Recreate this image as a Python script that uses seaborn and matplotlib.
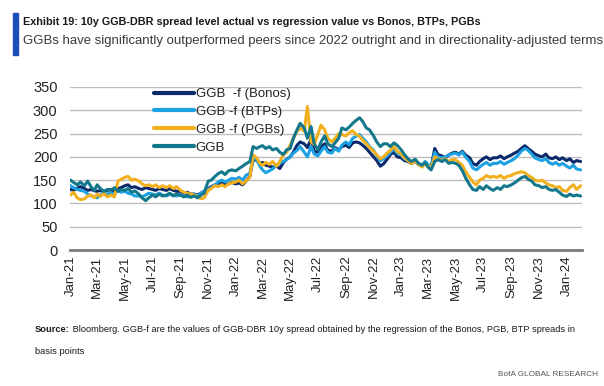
import numpy as np
import pandas as pd
import matplotlib
matplotlib.use("Agg")
import matplotlib.pyplot as plt
import matplotlib.dates as mdates
import seaborn as sns

# four readings per month (1st, 8th, 16th, 23rd), Jan-21 .. Jan-24, plus 1 Feb 2024
ggb = [
    [150, 145, 140, 146], [138, 148, 135, 128], [140, 132, 126, 130], [128, 134, 126, 130],
    [128, 132, 124, 127], [120, 112, 106, 112], [118, 114, 120, 116], [118, 122, 116, 120],
    [118, 114, 118, 113], [116, 112, 118, 122], [148, 150, 158, 164], [168, 162, 170, 172],
    [170, 175, 180, 185], [190, 222, 218, 222], [224, 218, 222, 215], [218, 210, 205, 215],
    [218, 240, 258, 272], [262, 240, 265, 228], [215, 232, 245, 228], [222, 230, 240, 262],
    [258, 264, 272, 278], [284, 276, 262, 258], [245, 232, 222, 228], [228, 222, 230, 225],
    [215, 205, 196, 190], [195, 186, 182, 188], [178, 172, 190, 194], [190, 194, 186, 188],
    [186, 182, 170, 155], [140, 130, 128, 136], [130, 138, 132, 128], [134, 130, 138, 136],
    [140, 144, 150, 155], [158, 152, 148, 140], [138, 134, 136, 130], [128, 130, 124, 118],
    [115, 120, 116, 118], [116],
]
bonos = [
    [130, 128, 133, 136], [132, 128, 130, 127], [126, 128, 124, 128], [130, 126, 132, 134],
    [138, 140, 134, 136], [132, 130, 134, 132], [130, 128, 132, 130], [128, 132, 128, 126],
    [126, 122, 124, 120], [120, 118, 122, 126], [132, 136, 140, 142], [144, 140, 142, 145],
    [142, 144, 140, 148], [158, 195, 192, 186], [188, 182, 180, 178], [180, 175, 188, 195],
    [200, 210, 225, 232], [228, 220, 238, 212], [210, 222, 228, 214], [212, 220, 215, 222],
    [225, 220, 230, 232], [230, 225, 218, 210], [200, 192, 180, 185], [195, 205, 210, 200],
    [198, 192, 190, 186], [190, 184, 180, 188], [182, 178, 218, 205], [202, 198, 204, 208],
    [210, 206, 212, 204], [198, 186, 182, 190], [196, 200, 194, 198], [198, 202, 196, 200],
    [204, 208, 212, 218], [224, 218, 212, 206], [202, 200, 206, 198], [196, 200, 194, 198],
    [192, 196, 188, 192], [190],
]
btps = [
    [138, 134, 130, 128], [126, 120, 116, 114], [112, 118, 124, 120], [122, 120, 128, 124],
    [126, 122, 120, 116], [116, 114, 118, 122], [120, 118, 122, 118], [116, 120, 118, 116],
    [118, 116, 114, 118], [120, 116, 122, 126], [130, 134, 140, 146], [150, 146, 150, 154],
    [152, 156, 150, 160], [165, 198, 194, 180], [172, 166, 170, 174], [182, 186, 190, 194],
    [200, 208, 214, 222], [210, 200, 222, 206], [202, 212, 222, 210], [208, 218, 212, 225],
    [232, 226, 240, 244], [248, 240, 232, 222], [214, 202, 192, 196], [202, 210, 216, 208],
    [204, 196, 192, 188], [192, 186, 182, 190], [184, 178, 210, 200], [198, 200, 204, 206],
    [208, 204, 210, 200], [190, 176, 172, 178], [184, 188, 182, 186], [186, 190, 184, 188],
    [192, 196, 204, 212], [218, 214, 206, 198], [194, 192, 196, 188], [184, 188, 182, 186],
    [180, 176, 182, 174], [172],
]
pgbs = [
    [118, 124, 112, 108], [110, 116, 118, 112], [120, 115, 122, 114], [118, 114, 148, 152],
    [156, 158, 150, 152], [148, 142, 138, 140], [136, 140, 134, 138], [134, 138, 132, 136],
    [128, 124, 122, 120], [118, 114, 110, 112], [128, 132, 138, 136], [140, 136, 142, 144],
    [146, 150, 142, 148], [156, 204, 198, 186], [182, 188, 184, 190], [180, 190, 205, 210],
    [225, 240, 255, 262], [255, 308, 232, 226], [248, 268, 258, 240], [232, 240, 250, 248],
    [245, 252, 256, 248], [244, 236, 228, 220], [212, 204, 196, 200], [208, 214, 222, 212],
    [206, 198, 192, 186], [190, 184, 178, 186], [180, 176, 200, 196], [192, 196, 190, 194],
    [194, 188, 182, 168], [156, 146, 140, 150], [154, 160, 156, 158], [156, 160, 154, 158],
    [160, 164, 166, 168], [166, 160, 156, 150], [148, 150, 144, 140], [138, 134, 136, 128],
    [126, 134, 140, 130], [138],
]

series_names = ["GGB  -f (Bonos)", "GGB -f (BTPs)", "GGB -f (PGBs)", "GGB"]
series_colors = ["#0B2A6B", "#1DA1E2", "#F2B01E", "#14788C"]
yticks = [0, 50, 100, 150, 200, 250, 300, 350]

months = pd.date_range("2021-01-01", "2024-01-01", freq="MS")
dates = [m + pd.Timedelta(days=d - 1) for m in months for d in (1, 8, 16, 23)]
dates.append(pd.Timestamp("2024-02-01"))


def flat(rows):
    return [v for r in rows for v in r]


df = pd.concat([
    pd.DataFrame({"date": dates, "value": flat(vals), "series": name})
    for name, vals in zip(series_names, [bonos, btps, pgbs, ggb])
], ignore_index=True)

sns.set_style("white")
plt.rcParams["font.family"] = ["Liberation Sans", "DejaVu Sans"]

fig = plt.figure(figsize=(6.04, 3.86), dpi=100)
ax = fig.add_axes([70 / 604, 1 - 250 / 386, 512 / 604, 163 / 386])

sns.lineplot(data=df, x="date", y="value", hue="series", hue_order=series_names,
             palette=series_colors, linewidth=2.2, ax=ax, legend=False)

ax.set_ylim(0, 350)
ax.set_yticks(yticks)
ax.set_xlim(pd.Timestamp("2020-12-31"), pd.Timestamp("2024-02-04"))
ax.xaxis.set_major_locator(mdates.MonthLocator(bymonth=[1, 3, 5, 7, 9, 11]))
ax.xaxis.set_major_formatter(mdates.DateFormatter("%b-%y"))
ax.set_xlabel("")
ax.set_ylabel("")
ax.yaxis.grid(True, color="#BDBDBD", linewidth=1.0)
ax.xaxis.grid(False)
ax.set_axisbelow(True)
for s in ["left", "top", "right"]:
    ax.spines[s].set_visible(False)
ax.spines["bottom"].set_color("#7A7A7A")
ax.spines["bottom"].set_linewidth(2)
ax.tick_params(axis="y", length=0, pad=9, labelsize=10.5, labelcolor="#222222")
ax.tick_params(axis="x", length=0, pad=4, labelsize=9.5, labelcolor="#222222",
               labelrotation=90)

handles = [plt.Line2D([], [], color=c, lw=3) for c in series_colors]
ax.legend(handles, series_names, loc="upper left", frameon=False,
          bbox_to_anchor=(154 / 604, 1 - 88 / 386), bbox_transform=fig.transFigure,
          fontsize=9.5, handlelength=3.0, handletextpad=0.15, labelspacing=0.42,
          borderpad=0, borderaxespad=0, labelcolor="#222222")

# header
fig.patches.append(plt.Rectangle((13 / 604, 1 - 55 / 386), 5 / 604, 42 / 386,
                                 transform=fig.transFigure, color="#1B4FB5"))
renderer = fig.canvas.get_renderer()


def fit(txt, width_px):
    w = txt.get_window_extent(renderer).width
    txt.set_fontsize(txt.get_fontsize() * width_px / w)


t1 = fig.text(23 / 604, 1 - 22 / 386, "Exhibit 19: 10y GGB-DBR spread level actual vs regression value vs Bonos, BTPs, PGBs",
              fontsize=10, fontweight="bold", color="#1A1A1A", va="center")
fit(t1, 457)
t2 = fig.text(23 / 604, 1 - 41 / 386, "GGBs have significantly outperformed peers since 2022 outright and in directionality-adjusted terms",
              fontsize=10, color="#3A3A3A", va="center")
fit(t2, 579)

# footer: bold "Source:" followed by the note, fitted together to the reference width
s1 = fig.text(35 / 604, 1 - 330 / 386, "Source:", fontsize=8, fontweight="bold",
              color="#1A1A1A", va="center")
s2 = fig.text(0, 1 - 330 / 386,
              " Bloomberg. GGB-f are the values of GGB-DBR 10y spread obtained by the regression of the Bonos, PGB, BTP spreads in",
              fontsize=8, color="#1A1A1A", va="center")
for _ in range(3):
    w1 = s1.get_window_extent(renderer).width
    w2 = s2.get_window_extent(renderer).width
    f = s1.get_fontsize() * 540 / (w1 + w2)
    s1.set_fontsize(f)
    s2.set_fontsize(f)
    s2.set_x((35 + s1.get_window_extent(renderer).width) / 604)
fig.text(35 / 604, 1 - 352 / 386, "basis points", fontsize=s2.get_fontsize(),
         color="#1A1A1A", va="center")
b = fig.text(598 / 604, 1 - 375 / 386, "BofA GLOBAL RESEARCH", fontsize=8,
             color="#555555", va="center", ha="right")
fit(b, 101)

fig.savefig("out.png", dpi=100)
